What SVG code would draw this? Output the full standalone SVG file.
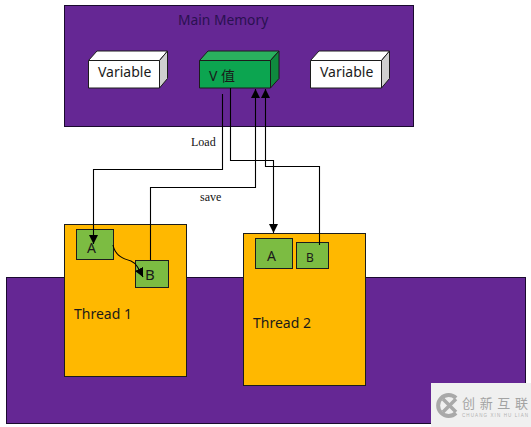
<svg xmlns="http://www.w3.org/2000/svg" width="531" height="427" viewBox="0 0 531 427">
<style>
.ln{fill:none;stroke:#000;stroke-width:1.1}
.p{fill:#652794;stroke:#1a0a2e;stroke-width:1}
.t{fill:#ffb800;stroke:#1c1c1c;stroke-width:1}
.g{fill:#7cbc42;stroke:#1c1c1c;stroke-width:1}
.b{stroke:#1c1c1c;stroke-width:1;stroke-linejoin:round}
text{font-family:"Noto Sans","Noto Sans CJK SC",sans-serif;fill:#1a1a1a}
.s{font-family:"Liberation Serif",serif;font-size:12px;fill:#111}
</style>
<defs>
<marker id="ah" markerUnits="userSpaceOnUse" markerWidth="10" markerHeight="10" refX="9" refY="4.5" orient="auto"><path d="M0 0L9 4.5L0 9Z" fill="#000"/></marker>
</defs>
<rect width="531" height="427" fill="#fff"/>
<g id="main-memory">
<rect class="p" x="64.5" y="5.5" width="349" height="121"/>
<text x="178" y="25" font-size="13.8" style="fill:#2a1150">Main Memory</text>
</g>
<g id="var-left">
<path class="b" fill="#fff" d="M88.5 60.5L97 51H167.5L159.5 60.5Z"/>
<path class="b" fill="#cfcfcf" d="M159.5 60.5L167.5 51V78.5L159.5 88Z"/>
<rect class="b" fill="#fff" x="88.5" y="60.5" width="71" height="27.5"/>
<text x="98" y="77" font-size="14">Variable</text>
</g>
<g id="var-v">
<path class="b" fill="#2ab05e" d="M199.5 60.5L208 51H279L270.5 60.5Z"/>
<path class="b" fill="#0f8a3e" d="M270.5 60.5L279 51V78.5L270.5 88Z"/>
<rect class="b" fill="#0ca550" x="199.5" y="60.5" width="71" height="27.5"/>
<text x="209" y="81" font-size="14">V 值</text>
</g>
<g id="var-right">
<path class="b" fill="#fff" d="M310.5 60.5L319 51H389.5L381.5 60.5Z"/>
<path class="b" fill="#cfcfcf" d="M381.5 60.5L389.5 51V78.5L381.5 88Z"/>
<rect class="b" fill="#fff" x="310.5" y="60.5" width="71" height="27.5"/>
<text x="320" y="77" font-size="14">Variable</text>
</g>
<g id="working-area">
<rect class="p" x="6.5" y="277.5" width="519" height="146"/>
</g>
<g id="thread-1">
<rect class="t" x="64.5" y="224.5" width="122" height="152"/>
<text x="74" y="319" font-size="14">Thread 1</text>
</g>
<g id="thread-2">
<rect class="t" x="243.5" y="233.5" width="122" height="152"/>
<text x="253" y="328" font-size="14">Thread 2</text>
</g>
<g id="t1-a">
<rect class="g" x="76.5" y="229.5" width="37" height="30"/>
<text x="87" y="253" font-size="14">A</text>
</g>
<g id="t1-b">
<rect class="g" x="135.5" y="260.5" width="33" height="27"/>
<text x="145" y="280" font-size="15">B</text>
</g>
<g id="t2-a">
<rect class="g" x="255.5" y="238.5" width="37" height="30"/>
<text x="267" y="261" font-size="14">A</text>
</g>
<g id="t2-b">
<rect class="g" x="296.5" y="242.5" width="32" height="26"/>
<text x="306" y="262" font-size="12">B</text>
</g>
<g id="connectors">
<path class="ln" marker-end="url(#ah)" d="M222.5 94V169.5H93.5V244"/>
<path class="ln" marker-end="url(#ah)" d="M230.5 88V160.5H273.5V233"/>
<path class="ln" marker-end="url(#ah)" d="M150.5 260V187.5H255.5V89"/>
<path class="ln" marker-end="url(#ah)" d="M319.5 245V166.5H265.5V89"/>
<path class="ln" marker-end="url(#ah)" d="M113 245C115 256 124 259 131 261C136 263 139 269 143 277"/>
</g>
<text class="s" x="191" y="146">Load</text>
<text class="s" x="200" y="201">save</text>
<g id="watermark">
<rect x="431" y="383" width="100" height="44" fill="#f0f0f0"/>
<path d="M456 398A10.5 10.5 0 1 0 456 413" fill="none" stroke="#a9a9a9" stroke-width="4"/>
<path d="M443 399L456 412M456 399L443 412" stroke="#a9a9a9" stroke-width="3.5" fill="none"/>
<text x="462" y="408" font-size="13" textLength="66" style="fill:#a3a3a3;font-family:'Noto Sans CJK SC',sans-serif">创新互联</text>
<text x="462" y="417" font-size="4.5" textLength="66" style="fill:#b0b0b0;font-family:'Liberation Sans',sans-serif">CHUANG XIN HU LIAN</text>
</g>
</svg>
